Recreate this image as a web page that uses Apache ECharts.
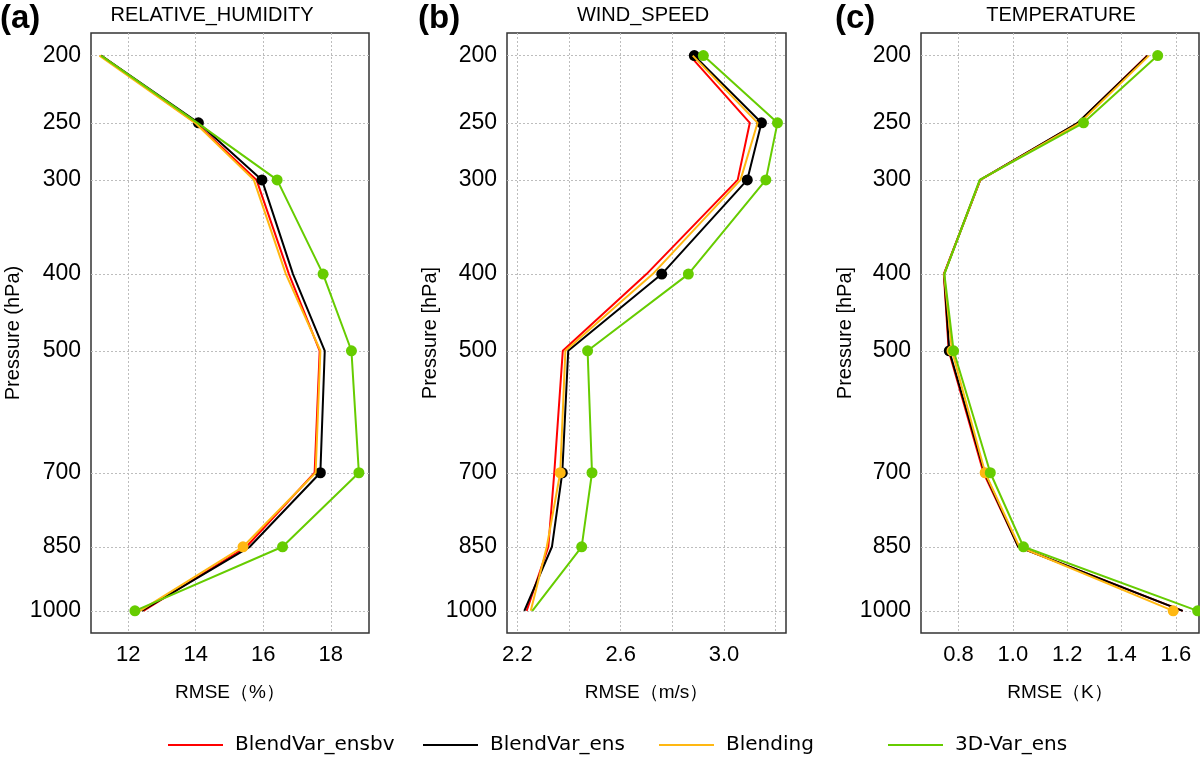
<!DOCTYPE html>
<html>
<head>
<meta charset="utf-8">
<title>RMSE profiles</title>
<script src="https://cdn.jsdelivr.net/npm/echarts@6/dist/echarts.min.js"></script>
<style>
  html, body { margin: 0; padding: 0; background: #fff; }
  #chart { width: 1200px; height: 758px; }
</style>
</head>
<body>
<div id="chart"></div>
<script>
// pressure levels (hPa)
const levels = [200, 250, 300, 400, 500, 700, 850, 1000];
const seriesNames = ['BlendVar_ensbv', 'BlendVar_ens', 'Blending', '3D-Var_ens'];
const seriesColors = ['#ff0000', '#000000', '#ffb812', '#66cc00'];

// (a) relative humidity RMSE (%)
const rhEnsbv = [11.20, 14.00, 15.80, 16.76, 17.67, 17.52, 15.50, 12.45];
const rhEns   = [11.20, 14.08, 15.96, 16.88, 17.82, 17.69, 15.60, 12.40];
const rhBlend = [11.15, 13.98, 15.72, 16.67, 17.69, 17.55, 15.40, 12.35];
const rh3dvar = [11.20, 14.05, 16.41, 17.77, 18.61, 18.83, 16.57, 12.20];
const rhMarkEnsbv = [0, 0, 0, 0, 0, 0, 0, 0];
const rhMarkEns   = [0, 1, 1, 0, 0, 1, 0, 0];
const rhMarkBlend = [0, 0, 0, 0, 0, 0, 1, 0];
const rhMark3dvar = [0, 0, 1, 1, 1, 1, 1, 1];
const rhTicks = [12, 14, 16, 18];
const rhGrid  = [12, 14, 16, 18];

// (b) wind speed RMSE (m/s)
const wsEnsbv = [2.868, 3.100, 3.053, 2.700, 2.376, 2.343, 2.320, 2.236];
const wsEns   = [2.885, 3.145, 3.090, 2.759, 2.397, 2.374, 2.334, 2.227];
const wsBlend = [2.879, 3.130, 3.064, 2.724, 2.386, 2.366, 2.314, 2.252];
const ws3dvar = [2.920, 3.207, 3.162, 2.862, 2.472, 2.489, 2.449, 2.258];
const wsMarkEnsbv = [0, 0, 0, 0, 0, 0, 0, 0];
const wsMarkEns   = [1, 1, 1, 1, 0, 1, 0, 0];
const wsMarkBlend = [0, 0, 0, 0, 0, 1, 0, 0];
const wsMark3dvar = [1, 1, 1, 1, 1, 1, 1, 0];
const wsTicks = [2.2, 2.6, 3.0];
const wsGrid  = [2.2, 2.4, 2.6, 2.8, 3.0, 3.2];

// (c) temperature RMSE (K)
const tEnsbv = [1.494, 1.240, 0.880, 0.746, 0.764, 0.892, 1.020, 1.625];
const tEns   = [1.496, 1.239, 0.880, 0.747, 0.766, 0.896, 1.020, 1.625];
const tBlend = [1.501, 1.247, 0.880, 0.747, 0.776, 0.898, 1.024, 1.590];
const t3dvar = [1.533, 1.260, 0.878, 0.748, 0.782, 0.917, 1.039, 1.680];
const tMarkEnsbv = [0, 0, 0, 0, 0, 0, 0, 0];
const tMarkEns   = [0, 0, 0, 0, 1, 0, 0, 0];
const tMarkBlend = [0, 0, 0, 0, 1, 1, 0, 1];
const tMark3dvar = [1, 1, 0, 0, 1, 1, 1, 1];
const tTicks = [0.8, 1.0, 1.2, 1.4, 1.6];
const tGrid  = [0.8, 1.0, 1.2, 1.4, 1.6];

// vertical coordinate: standard atmosphere height of each pressure level
function heightOf(p) {
  return 44330.8 * (1 - Math.pow(p / 1013.25, 0.190263));
}
const levelH = levels.map(heightOf);
const yMin = levelH[levelH.length - 1] - 465;
const yMax = levelH[0] + 475;

function pressureLabel(v) {
  let best = 0;
  levelH.forEach((h, i) => {
    if (Math.abs(h - v) < Math.abs(levelH[best] - v)) best = i;
  });
  return String(levels[best]);
}

const FONT = 'Liberation Sans, Arial, Helvetica, sans-serif';

const panels = [
  { left: 91, width: 278, xMin: 10.9, xMax: 19.13, ticks: rhTicks, grid: rhGrid, digits: 0,
    xName: 'RMSE（%）', yName: 'Pressure (hPa)', nameGap: 68,
    data: [rhEnsbv, rhEns, rhBlend, rh3dvar],
    marks: [rhMarkEnsbv, rhMarkEns, rhMarkBlend, rhMark3dvar] },
  { left: 507, width: 279, xMin: 2.16, xMax: 3.24, ticks: wsTicks, grid: wsGrid, digits: 1,
    xName: 'RMSE（m/s）', yName: 'Pressure [hPa]', nameGap: 67,
    data: [wsEnsbv, wsEns, wsBlend, ws3dvar],
    marks: [wsMarkEnsbv, wsMarkEns, wsMarkBlend, wsMark3dvar] },
  { left: 921, width: 278, xMin: 0.662, xMax: 1.685, ticks: tTicks, grid: tGrid, digits: 1,
    xName: 'RMSE（K）', yName: 'Pressure [hPa]', nameGap: 64,
    data: [tEnsbv, tEns, tBlend, t3dvar],
    marks: [tMarkEnsbv, tMarkEns, tMarkBlend, tMark3dvar] }
];

const grids = [], xAxes = [], yAxes = [], series = [];
const gridLine = { show: true, lineStyle: { color: '#bdbdbd', width: 1, type: [2, 2] } };

panels.forEach((p, gi) => {
  grids.push({
    left: p.left, top: 33, width: p.width, height: 600,
    show: true, borderColor: '#333', borderWidth: 1.5, backgroundColor: '#fff'
  });
  xAxes.push({
    type: 'value', gridIndex: gi, min: p.xMin, max: p.xMax,
    name: p.xName, nameLocation: 'middle', nameGap: 50,
    nameTextStyle: { fontFamily: FONT, fontSize: 19, color: '#000' },
    axisLine: { show: false },
    axisTick: { show: false, customValues: p.grid },
    axisLabel: {
      customValues: p.ticks, margin: 11, fontFamily: FONT, fontSize: 22, color: '#000',
      formatter: v => v.toFixed(p.digits)
    },
    splitLine: gridLine
  });
  yAxes.push({
    type: 'value', gridIndex: gi, min: yMin, max: yMax,
    name: p.yName, nameLocation: 'middle', nameGap: p.nameGap,
    nameTextStyle: { fontFamily: FONT, fontSize: 20, color: '#000' },
    axisLine: { show: false },
    axisTick: { show: false, customValues: levelH },
    axisLabel: {
      customValues: levelH, margin: 10, fontFamily: FONT, fontSize: 23, color: '#000',
      formatter: pressureLabel
    },
    splitLine: gridLine
  });
  p.data.forEach((vals, si) => {
    series.push({
      name: seriesNames[si], type: 'line', xAxisIndex: gi, yAxisIndex: gi,
      data: vals.map((v, k) => ({
        value: [v, levelH[k]],
        symbol: p.marks[si][k] ? 'circle' : 'none'
      })),
      symbolSize: 11, showAllSymbol: true,
      lineStyle: { color: seriesColors[si], width: 2 },
      itemStyle: { color: seriesColors[si] },
      z: 2 + si
    });
  });
});

// one legend per entry, as the reference spaces them unevenly
const legendLeft = [168, 423, 659, 888];
const legends = seriesNames.map((n, i) => ({
  data: [n], left: legendLeft[i], top: 735, padding: 0,
  icon: 'rect', itemWidth: 55, itemHeight: 2, selectedMode: false,
  textStyle: { fontFamily: 'DejaVu Sans', fontSize: 20, color: '#000', padding: [0, 0, 0, 7] }
}));

const panelTags = ['(a)', '(b)', '(c)'];
const tagLeft = [0, 418, 835];
const titles = ['RELATIVE_HUMIDITY', 'WIND_SPEED', 'TEMPERATURE'];
const titleCenter = [212, 643, 1061];

const graphics = [];
panelTags.forEach((t, i) => {
  graphics.push({ type: 'text', x: tagLeft[i], y: 19,
    style: { text: t, fontFamily: FONT, fontWeight: 'bold', fontSize: 33, fill: '#000',
             align: 'left', verticalAlign: 'middle' } });
  graphics.push({ type: 'text', x: titleCenter[i], y: 15,
    style: { text: titles[i], fontFamily: FONT, fontSize: 20, fill: '#000',
             align: 'center', verticalAlign: 'middle' } });
});

const chart = echarts.init(document.getElementById('chart'));
chart.setOption({
  backgroundColor: '#fff',
  animation: false,
  grid: grids,
  xAxis: xAxes,
  yAxis: yAxes,
  legend: legends,
  graphic: graphics,
  series: series
});
window.onresize = chart.resize;
</script>
</body>
</html>
